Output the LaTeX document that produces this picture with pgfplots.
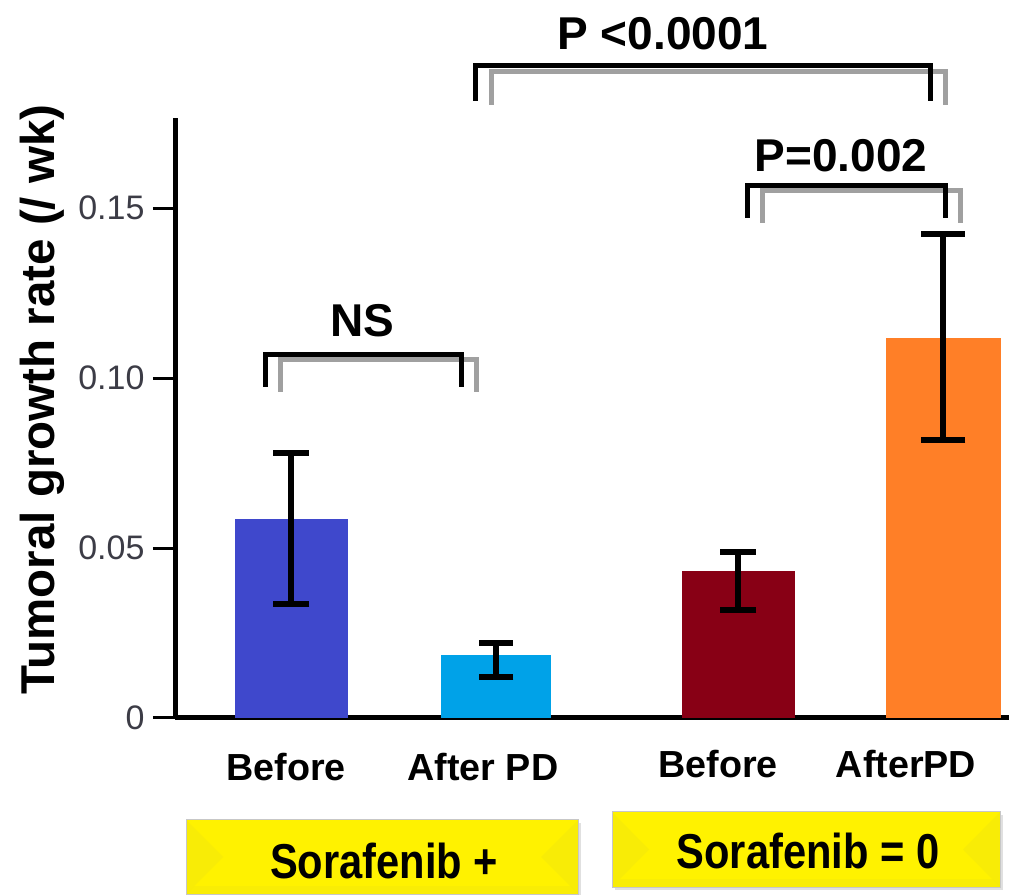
\documentclass[border=0pt]{standalone}
\usepackage{pgfplots}
\pgfplotsset{compat=1.18}
\usepackage{fontspec}
\setmainfont{Liberation Sans}
\definecolor{c1}{RGB}{63,72,204}
\definecolor{c2}{RGB}{0,162,232}
\definecolor{c3}{RGB}{136,0,21}
\definecolor{c4}{RGB}{255,127,39}
\definecolor{shadowgray}{RGB}{160,160,160}
\definecolor{ticklab}{RGB}{60,60,70}
\newcommand{\bevelbox}[4]{%
  \fill[black!12] (#1+3,#2-3) rectangle (#3+3,#4-3);
  \fill[yellow!100!white] (#1,#2) rectangle (#3,#4);
  \fill[yellow!92!black,opacity=0.35] (#1,#2) -- ({#1+37},{(#2+#4)/2}) -- (#1,#4) -- cycle;
  \fill[yellow!92!black,opacity=0.35] (#3,#2) -- ({#3-37},{(#2+#4)/2}) -- (#3,#4) -- cycle;
  \fill[yellow!92!black,opacity=0.3] (#1,#2) -- (#1+8,#2+8) -- (#3-8,#2+8) -- (#3,#2) -- cycle;
  \draw[black!22,line width=1pt] (#1,#2) rectangle (#3,#4);
}
\begin{document}
\begin{tikzpicture}[x=1pt,y=1pt]
\useasboundingbox (0,0) rectangle (1009,894);
% group boxes
\bevelbox{186}{0}{578}{74}
\bevelbox{612}{7}{1000}{82}
\node[anchor=base] at (384,16) {\scalebox{0.85}[1]{\fontsize{49}{49}\selectfont\bfseries Sorafenib +}};
\node[anchor=base] at (808,26) {\scalebox{0.85}[1]{\fontsize{49}{49}\selectfont\bfseries Sorafenib = 0}};
% y label
\node[rotate=90, anchor=base west, inner sep=0pt] at (54,199) {\fontsize{47.5}{47.5}\selectfont\bfseries Tumoral growth rate (/ wk\symbol{41}};
\begin{axis}[
  at={(175pt,176pt)}, anchor=south west,
  scale only axis, width=834pt, height=600pt,
  xmin=-0.568, xmax=3.5, ymin=0, ymax=0.1765,
  axis x line=bottom, axis y line=left,
  axis line style={line width=5pt,-},
  xtick=\empty,
  ytick={0,0.05,0.1,0.15},
  yticklabels={0,0.05,0.10,0.15},
  tick align=outside,
  major tick length=22pt,
  tick style={line width=3pt,black},
  yticklabel style={font=\fontsize{34}{34}\selectfont, text=ticklab, xshift=-5pt},
  /pgf/number format/assume math mode=true,
  clip=false,
]
\addplot[ybar, bar width=113pt, bar shift=0pt, fill=c1, draw=none,
  error bars/.cd, y dir=both, y explicit,
  error bar style={line width=6pt,black},
  error mark options={rotate=90, mark size=18pt, line width=6pt, black}]
  coordinates {(0,0.0585) += (0,0.0195) -= (0,0.0250)};
\addplot[ybar, bar width=110pt, bar shift=0pt, fill=c2, draw=none,
  error bars/.cd, y dir=both, y explicit,
  error bar style={line width=6pt,black},
  error mark options={rotate=90, mark size=17pt, line width=6pt, black}]
  coordinates {(1,0.0185) += (0,0.0036) -= (0,0.0064)};
\addplot[ybar, bar width=113pt, bar shift=0pt, fill=c3, draw=none,
  error bars/.cd, y dir=both, y explicit,
  error bar style={line width=6pt,black},
  error mark options={rotate=90, mark size=18pt, line width=6pt, black}]
  coordinates {(2.18,0.0432) += (0,0.0056) -= (0,0.0114)};
\addplot[ybar, bar width=115pt, bar shift=0pt, fill=c4, draw=none,
  error bars/.cd, y dir=both, y explicit,
  error bar style={line width=6pt,black},
  error mark options={rotate=90, mark size=22pt, line width=6pt, black}]
  coordinates {(3.18,0.1118) += (0,0.0306) -= (0,0.0300)};
\end{axis}
% category labels
\begin{scope}[every node/.style={anchor=base, font=\fontsize{37.7}{38}\selectfont\bfseries}]
\node at (286,113) {Before};
\node at (483,113) {After PD};
\node at (718,116) {Before};
\node at (906,116) {AfterPD};
\end{scope}
% significance brackets
\begin{scope}[line width=5pt, line join=miter, line cap=butt]
\draw[shadowgray] (280,502) -- (280,534) -- (476,534) -- (476,502);
\draw[black] (265,507) -- (265,539) -- (461,539) -- (461,507);
\draw[shadowgray] (762,671) -- (762,703) -- (960,703) -- (960,671);
\draw[black] (747,676) -- (747,708) -- (945,708) -- (945,676);
\draw[shadowgray] (491,789) -- (491,822) -- (945,822) -- (945,789);
\draw[black] (475,793) -- (475,828) -- (930,828) -- (930,793);
\end{scope}
\begin{scope}[every node/.style={anchor=base, font=\fontsize{46}{46}\selectfont\bfseries}]
\node at (362,557) {NS};
\node at (841,722) {P=0.002};
\node at (663,844) {P <0.0001};
\end{scope}
\end{tikzpicture}
\end{document}
